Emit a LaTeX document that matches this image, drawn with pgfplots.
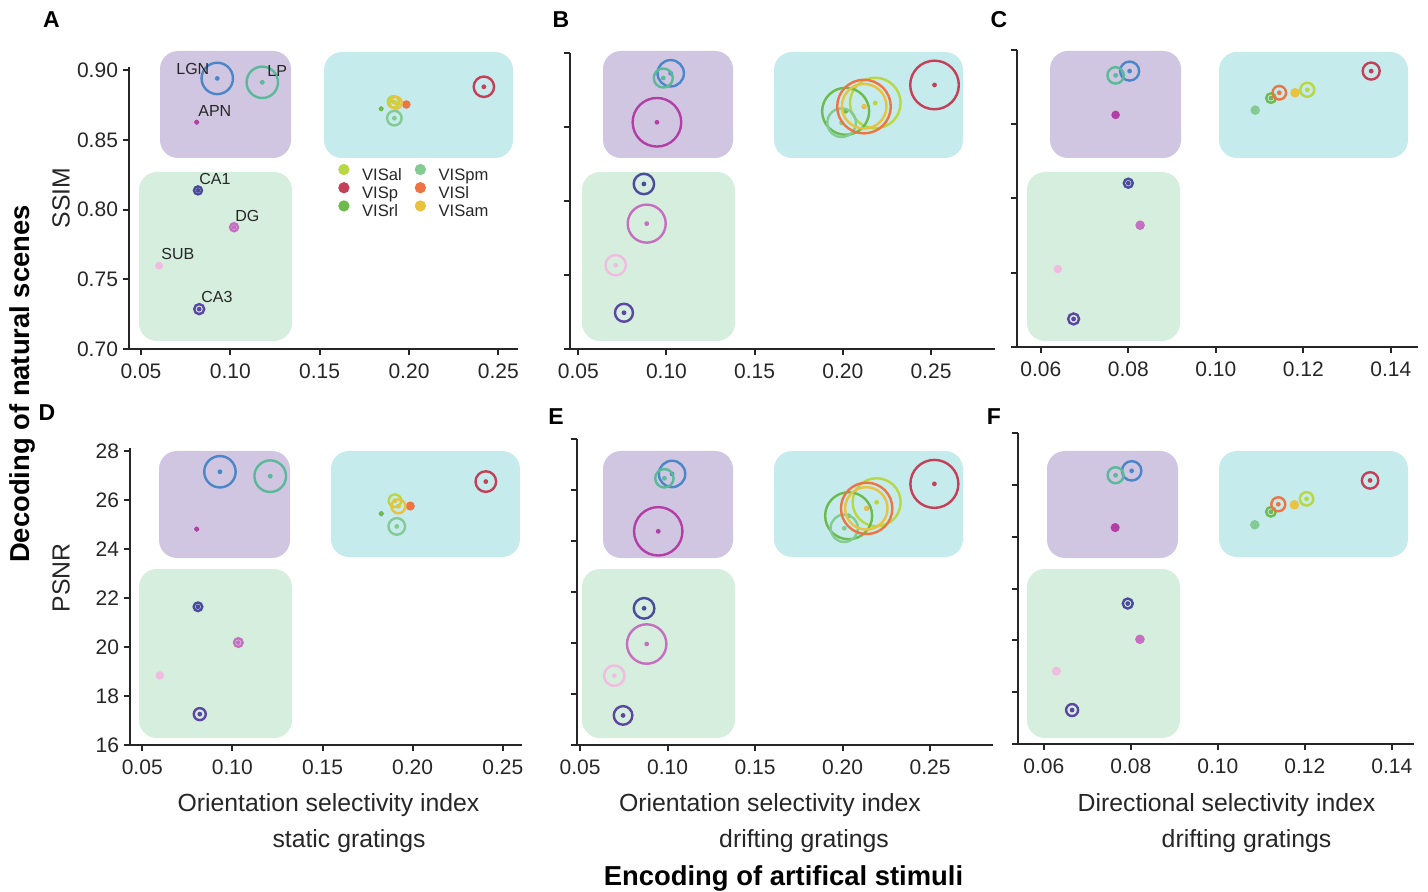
\documentclass[border=0pt]{standalone}
\usepackage{fontspec}
\setmainfont{Liberation Sans}
\usepackage{pgfplots}
\usepackage{pgfplotstable}
\pgfplotsset{compat=1.18}

\newcommand\fs[1]{\fontsize{#1}{#1}\selectfont}

% region colours
\definecolor{cLGN}{RGB}{75,134,200}
\definecolor{cLP}{RGB}{90,185,154}
\definecolor{cAPN}{RGB}{178,63,166}
\definecolor{cCA1}{RGB}{74,74,158}
\definecolor{cDG}{RGB}{196,111,191}
\definecolor{cSUB}{RGB}{240,189,224}
\definecolor{cCA3}{RGB}{91,69,165}
\definecolor{cVISal}{RGB}{184,216,67}
\definecolor{cVISp}{RGB}{196,64,88}
\definecolor{cVISrl}{RGB}{108,187,76}
\definecolor{cVISpm}{RGB}{132,203,147}
\definecolor{cVISl}{RGB}{239,116,68}
\definecolor{cVISam}{RGB}{233,194,63}
% group backgrounds
\definecolor{boxTH}{RGB}{208,198,225}
\definecolor{boxVIS}{RGB}{198,235,236}
\definecolor{boxHC}{RGB}{214,238,221}
\definecolor{spine}{RGB}{38,38,38}

% ring (spread) with a dot at the mean
\pgfdeclareplotmark{ringdot}{%
  \pgfpathcircle{\pgfpointorigin}{\pgfplotmarksize}%
  \pgfusepathqstroke
  \pgfpathcircle{\pgfpointorigin}{1.2pt}%
  \pgfusepathqfill}

% columns: region, x (selectivity), y (decoding), r (ring radius, pt)
\pgfplotstableread{
region x y r
LGN   0.0927 0.8940 7.85
LP    0.1179 0.8912 7.85
APN   0.0812 0.8626 0.5
CA1   0.0819 0.8137 2.0
DG    0.1021 0.7873 2.0
SUB   0.0601 0.7597 1.35
CA3   0.0826 0.7286 2.5
VISal 0.1913 0.8772 2.85
VISp  0.2419 0.8880 5.1
VISrl 0.1844 0.8722 0.5
VISpm 0.1918 0.8655 3.65
VISl  0.1985 0.8753 1.5
VISam 0.1926 0.8765 3.0
}\tabA
\pgfplotstableread{
region x y r
LGN   0.1024 0.8863 6.6
LP    0.0982 0.8831 4.75
APN   0.0946 0.8532 12.15
CA1   0.0872 0.8115 5.1
DG    0.0888 0.7847 9.5
SUB   0.0712 0.7566 5.1
CA3   0.0759 0.7245 4.5
VISal 0.2184 0.8662 12.65
VISp  0.2520 0.8784 12.15
VISrl 0.2016 0.8606 11.75
VISpm 0.1993 0.8529 7.15
VISl  0.2120 0.8638 13.4
VISam 0.2121 0.8640 11.15
}\tabB
\pgfplotstableread{
region x y r
LGN   0.0803 0.8858 4.75
LP    0.0771 0.8829 4.1
APN   0.0771 0.8563 1.5
CA1   0.0800 0.8103 2.25
DG    0.0827 0.7820 1.75
SUB   0.0639 0.7525 1.5
CA3   0.0675 0.7189 2.75
VISal 0.1209 0.8732 3.5
VISp  0.1355 0.8858 4.25
VISrl 0.1126 0.8676 2.4
VISpm 0.1090 0.8595 1.75
VISl  0.1145 0.8712 3.4
VISam 0.1181 0.8712 1.75
}\tabC
\pgfplotstableread{
region x y r
LGN   0.0931 27.15 7.85
LP    0.1210 26.97 7.9
APN   0.0802 24.81 0.5
CA1   0.0809 21.64 2.15
DG    0.1033 20.18 2.15
SUB   0.0598 18.84 1.5
CA3   0.0819 17.26 3.0
VISal 0.1902 25.97 3.15
VISp  0.2406 26.75 5.15
VISrl 0.1826 25.44 0.6
VISpm 0.1912 24.92 4.15
VISl  0.1987 25.75 1.65
VISam 0.1921 25.74 3.5
}\tabD
\pgfplotstableread{
region x y r
LGN   0.1026 26.63 6.6
LP    0.0982 26.46 4.6
APN   0.0947 24.38 12.1
CA1   0.0866 21.36 5.15
DG    0.0881 19.96 9.85
SUB   0.0696 18.72 5.1
CA3   0.0746 17.16 4.65
VISal 0.2195 25.52 12.0
VISp  0.2525 26.24 12.0
VISrl 0.2035 24.99 11.75
VISpm 0.2010 24.50 6.85
VISl  0.2138 25.28 12.85
VISam 0.2136 25.28 10.6
}\tabE
\pgfplotstableread{
region x y r
LGN   0.0802 26.54 4.85
LP    0.0765 26.37 4.0
APN   0.0764 24.35 1.65
CA1   0.0793 21.42 2.5
DG    0.0821 20.04 1.75
SUB   0.0629 18.81 1.65
CA3   0.0665 17.31 3.0
VISal 0.1204 25.46 3.35
VISp  0.1350 26.17 4.1
VISrl 0.1122 24.96 2.4
VISpm 0.1085 24.46 1.75
VISl  0.1139 25.25 3.5
VISam 0.1176 25.23 1.75
}\tabF

\pgfplotsset{
  panel/.style={
    scale only axis, clip=false, anchor=south west,
    axis x line=bottom, axis y line=left,
    axis line style={-, line width=1pt, spine},
    tick style={line width=1pt, spine},
    tick align=outside, major tick length=3pt,
    tick label style={font=\fs{10.5}, text=spine},
    /pgf/number format/assume math mode=true,
    xticklabel style={yshift=-1pt, /pgf/number format/.cd, fixed, fixed zerofill, precision=2},
    yticklabel style={xshift=1pt},
  },
  ssim/.style={ymin=0.70, ymax=0.90, ytick={0.70,0.75,0.80,0.85,0.90},
    yticklabel style={/pgf/number format/.cd, fixed, fixed zerofill, precision=2}},
  psnr/.style={ymin=16, ymax=28, ytick={16,18,20,22,24,26,28}},
  osi/.style={xtick={0.05,0.10,0.15,0.20,0.25}},
  dsi/.style={xtick={0.06,0.08,0.10,0.12,0.14}},
  % one area: coloured ring of the tabulated radius around a dot
  areas/.style={
    scatter, only marks, mark=ringdot, forget plot, line width=1.2pt,
    mark options={line width=1.2pt},
    visualization depends on={\thisrow{r}\as\ringr},
    scatter/@pre marker code/.code={\scope[mark size=\ringr]},
    scatter/@post marker code/.code={\endscope},
  },
  area0/.style={color=cLGN},
  area1/.style={color=cLP},
  area2/.style={color=cAPN},
  area3/.style={color=cCA1},
  area4/.style={color=cDG},
  area5/.style={color=cSUB},
  area6/.style={color=cCA3},
  area7/.style={color=cVISal},
  area8/.style={color=cVISp},
  area9/.style={color=cVISrl},
  area10/.style={color=cVISpm},
  area11/.style={color=cVISl},
  area12/.style={color=cVISam},
}
% draw every row of a table in its area colour
\newcommand\areaplot[1]{%
  \pgfplotsinvokeforeach{0,...,12}{%
    \addplot[areas, area##1, restrict expr to domain={\coordindex}{##1:##1}]
      table[x=x, y=y] {#1};
  }}

\begin{document}
\begin{tikzpicture}
\path[use as bounding box] (0pt,0pt) rectangle (714pt,-446pt);

% group backgrounds (thalamus, visual cortex, hippocampus)
\begin{scope}[x=0.5pt, y=-0.5pt, rounded corners=9pt]
  \foreach \px/\pxx/\cxa/\cxb/\gx/\gxx in {
      160/291/324/513/139/292,
      603/733/774/963/582/735,
      1050/1181/1219/1408/1027/1180}{
    \fill[boxTH]  (\px,51) rectangle (\pxx,158);
    \fill[boxVIS] (\cxa,52) rectangle (\cxb,158);
    \fill[boxHC]  (\gx,172) rectangle (\gxx,341);
  }
  \foreach \px/\pxx/\cxa/\cxb/\gx/\gxx in {
      159/290/331/520/139/292,
      603/733/774/963/582/735,
      1047/1178/1219/1408/1027/1180}{
    \fill[boxTH]  (\px,451) rectangle (\pxx,558);
    \fill[boxVIS] (\cxa,451) rectangle (\cxb,557);
    \fill[boxHC]  (\gx,569) rectangle (\gxx,738);
  }
\end{scope}

% A
\begin{axis}[panel, ssim, osi, at={(64.5pt,-174.5pt)}, width=194.5pt, height=141.15pt,
  xmin=0.0433, xmax=0.2610, ymax=0.9024,
  legend columns=2, legend cell align=left,
  legend image code/.code={\fill (0pt,2.9pt) circle (2.6pt);},
  legend style={draw=none, fill=none, inner sep=0pt, at={(0.537,0.657)}, anchor=north west,
    font=\fs{8.3}, text=spine,
    nodes={inner sep=0pt, text height=6.5pt, text depth=1.5pt},
    row sep=-0.6pt,
    /tikz/every odd column/.append style={column sep=6.3pt},
    /tikz/every even column/.append style={column sep=6.5pt}}]
\areaplot{\tabA}
\addlegendimage{color=cVISal}\addlegendentry{VISal}
\addlegendimage{color=cVISpm}\addlegendentry{VISpm}
\addlegendimage{color=cVISp}\addlegendentry{VISp}
\addlegendimage{color=cVISl}\addlegendentry{VISl}
\addlegendimage{color=cVISrl}\addlegendentry{VISrl}
\addlegendimage{color=cVISam}\addlegendentry{VISam}
\end{axis}

% B
\begin{axis}[panel, ssim, osi, yticklabels={}, at={(285pt,-174.5pt)}, width=212.5pt, height=148pt,
  xmin=0.0453, xmax=0.2863]
\areaplot{\tabB}
\end{axis}

% C
\begin{axis}[panel, ssim, dsi, yticklabels={}, at={(508.35pt,-173.5pt)}, width=200.65pt, height=148.5pt,
  xmin=0.0545, xmax=0.1462]
\areaplot{\tabC}
\end{axis}

% D
\begin{axis}[panel, psnr, osi, at={(65pt,-372.5pt)}, width=195.85pt, height=148.5pt,
  xmin=0.0432, xmax=0.2605, ymax=28.12]
\areaplot{\tabD}
\end{axis}

% E
\begin{axis}[panel, psnr, osi, yticklabels={}, at={(288.35pt,-372.5pt)}, width=208.15pt, height=153pt,
  xmin=0.0481, xmax=0.2860]
\areaplot{\tabE}
\end{axis}

% F
\begin{axis}[panel, psnr, dsi, yticklabels={}, at={(508.85pt,-372pt)}, width=198.15pt, height=155.5pt,
  xmin=0.0540, xmax=0.1451]
\areaplot{\tabF}
\end{axis}

% labels
\begin{scope}[x=0.5pt, y=-0.5pt, every node/.style={text=spine, inner sep=0pt}]
  % area names in A
  \begin{scope}[every node/.append style={font=\fs{8}, anchor=west}]
    \node at (176,69) {LGN};
    \node at (267,71) {LP};
    \node at (198,111) {APN};
    \node at (199,179) {CA1};
    \node at (235,216) {DG};
    \node at (161,254) {SUB};
    \node at (201,297) {CA3};
  \end{scope}
  % panel letters
  \begin{scope}[every node/.append style={font=\fs{11.5}\bfseries, text=black}]
    \node at (51.5,20) {A};
    \node at (561,20) {B};
    \node at (999,20) {C};
    \node at (47,413) {D};
    \node at (556,417) {E};
    \node at (994,417) {F};
  \end{scope}
  % axis titles
  \node[font=\fs{12.4}, rotate=90] at (61,198) {SSIM};
  \node[font=\fs{12.4}, rotate=90] at (61,578) {PSNR};
  \node[font=\fs{13.7}\bfseries, rotate=90, text=black] at (22,384) {Decoding of natural scenes};
  \node[font=\fs{12.4}] at (328.5,805) {Orientation selectivity index};
  \node[font=\fs{12.4}] at (349,841) {static gratings};
  \node[font=\fs{12.4}] at (770,805) {Orientation selectivity index};
  \node[font=\fs{12.4}] at (804,841) {drifting gratings};
  \node[font=\fs{12.4}] at (1226.5,805) {Directional selectivity index};
  \node[font=\fs{12.4}] at (1246.5,841) {drifting gratings};
  \node[font=\fs{13.7}\bfseries, text=black] at (783.5,878) {Encoding of artifical stimuli};
\end{scope}
\end{tikzpicture}
\end{document}
